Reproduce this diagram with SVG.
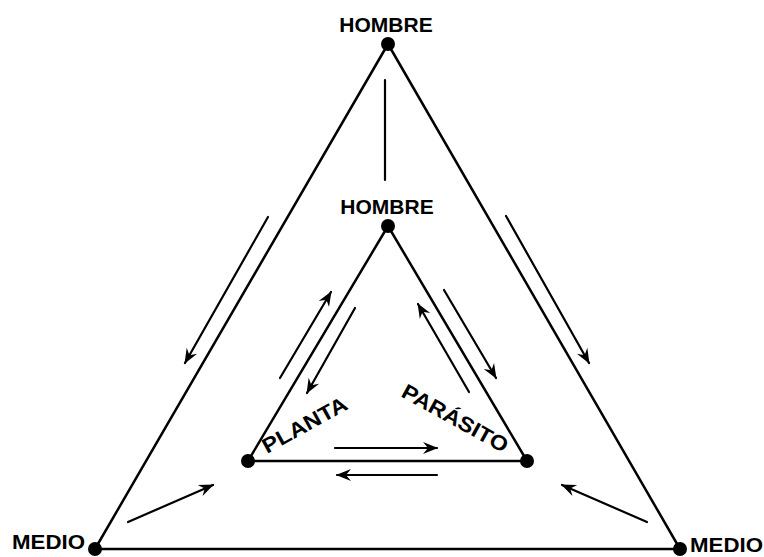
<svg xmlns="http://www.w3.org/2000/svg" width="764" height="557" viewBox="0 0 764 557">
<style>
.lbl{font-family:"Liberation Sans","DejaVu Sans",sans-serif;font-weight:bold;font-size:21px;fill:#000}
.edge{stroke:#000;stroke-width:2.5;fill:none;stroke-linecap:round}
.arr{stroke:#000;stroke-width:2.2;fill:none;stroke-linecap:round;marker-end:url(#ah)}
.plain{stroke:#000;stroke-width:2.2;fill:none;stroke-linecap:round}
.dot{fill:#000}
</style>
<defs>
<marker id="ah" markerUnits="userSpaceOnUse" viewBox="-16 -8 18 16" refX="0" refY="0" markerWidth="18" markerHeight="16" orient="auto">
<path d="M1,0 L-14,-6 L-9,0 L-14,6 Z" fill="#000"/>
</marker>
</defs>
<rect width="764" height="557" fill="#fff"/>
<g id="connectors">
<line class="edge" x1="388" y1="44" x2="95" y2="549"/>
<line class="edge" x1="388" y1="44" x2="680" y2="549"/>
<line class="edge" x1="95" y1="549" x2="680" y2="549"/>
<line class="edge" x1="388" y1="226" x2="248" y2="461"/>
<line class="edge" x1="388" y1="226" x2="527" y2="461"/>
<line class="edge" x1="248" y1="461" x2="527" y2="461"/>
<line class="plain" x1="385" y1="80" x2="385" y2="180"/>
<line class="arr" x1="268" y1="217" x2="185" y2="363"/>
<line class="arr" x1="506" y1="216" x2="589" y2="363"/>
<line class="arr" x1="128" y1="522" x2="213" y2="485"/>
<line class="arr" x1="647" y1="522" x2="562" y2="485"/>
<line class="arr" x1="280" y1="378" x2="331" y2="292"/>
<line class="arr" x1="355" y1="308" x2="307" y2="393"/>
<line class="arr" x1="444" y1="290" x2="496" y2="378"/>
<line class="arr" x1="469" y1="392" x2="418" y2="304"/>
<line class="arr" x1="335" y1="448" x2="437" y2="448"/>
<line class="arr" x1="437" y1="475" x2="337" y2="475"/>
</g>
<g id="hombre-outer">
<circle class="dot" cx="388" cy="44" r="7"/>
<text class="lbl" x="386" y="32" text-anchor="middle">HOMBRE</text>
</g>
<g id="hombre-inner">
<circle class="dot" cx="388" cy="226" r="7"/>
<text class="lbl" x="387" y="214" text-anchor="middle">HOMBRE</text>
</g>
<g id="planta">
<circle class="dot" cx="248" cy="461" r="7"/>
<text class="lbl" x="267" y="454" transform="rotate(-29 267 454)" textLength="94" lengthAdjust="spacingAndGlyphs">PLANTA</text>
</g>
<g id="parasito">
<circle class="dot" cx="527" cy="461" r="7"/>
<text class="lbl" x="400" y="396" transform="rotate(29 400 396)" textLength="118" lengthAdjust="spacingAndGlyphs">PARÁSITO</text>
</g>
<g id="medio-left">
<circle class="dot" cx="95" cy="549" r="7"/>
<text class="lbl" x="12" y="549" textLength="73" lengthAdjust="spacingAndGlyphs">MEDIO</text>
</g>
<g id="medio-right">
<circle class="dot" cx="680" cy="549" r="7"/>
<text class="lbl" x="690" y="552" textLength="73" lengthAdjust="spacingAndGlyphs">MEDIO</text>
</g>
</svg>
